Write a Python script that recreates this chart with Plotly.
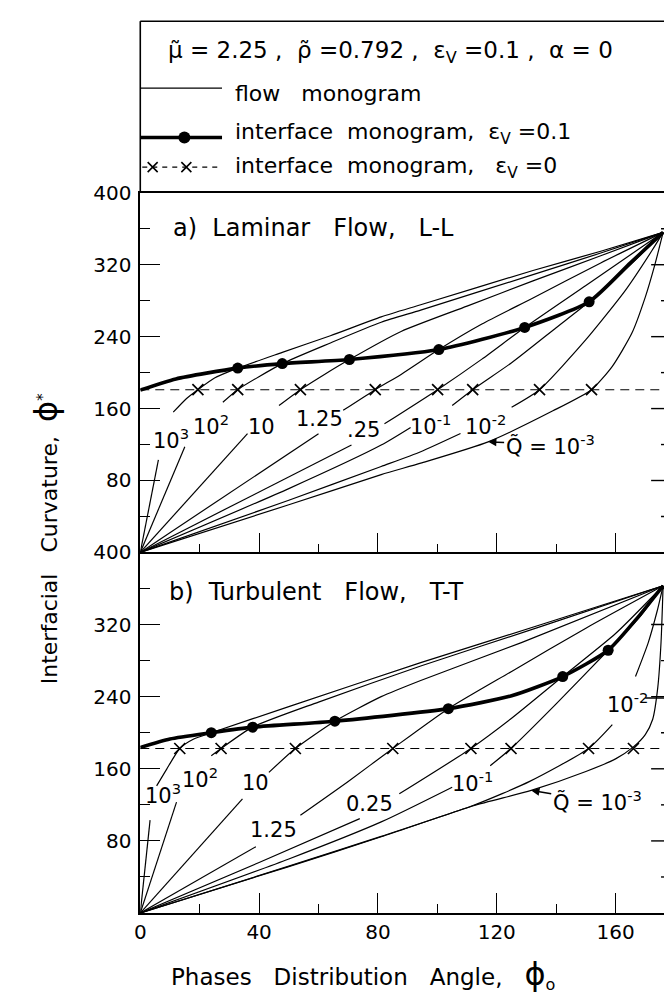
import plotly.graph_objects as go

W, H = 664, 998
FONT = "DejaVu Sans"

# ---------------- data: panel a) Laminar Flow, L-L ----------------
a_x_q1e3 = [0, 6.1, None, 11.1, 15.5, 19.4, 25, 32.8, 47.8, 64, 81.1, 94.4, 132.2, 155, 176]
a_y_q1e3 = [0, 103, None, 156, 171, 181, 194, 205, 222.5, 241, 262, 275.5, 313.6, 335, 356]
a_x_q1e2 = [0, 15, None, 27.8, 32.8, 47.8, 64, 81.1, 94.4, 132.2, 155, 176]
a_y_q1e2 = [0, 117.6, None, 167, 181, 210, 233, 256, 269.5, 309, 333, 356]
a_x_q10 = [0, 36.1, None, 46.7, 53.9, 62, 70.4, 87.8, 110, 132.2, 155, 176]
a_y_q10 = [0, 132.2, None, 163.4, 181, 198, 214.6, 245.8, 274, 302, 330, 356]
a_x_q125 = [0, 60, None, 68.3, 79.1, 87.8, 100.5, 115, 132.2, 155, 176]
a_y_q125 = [0, 132, None, 158, 181, 198, 225.6, 254, 283, 322, 356]
a_x_q025 = [0, 71.1, None, 82.2, 100.1, 115, 129.4, 150, 176]
a_y_q025 = [0, 119.5, None, 143, 181, 215, 250.2, 297, 356]
a_x_q1em1 = [0, 50, 81.1, 91, None, 105, 111.9, 125, 140, 151.1, 165, 176]
a_y_q1em1 = [0, 71, 119.4, 139, None, 163.4, 181, 211, 250, 278.8, 320, 356]
a_x_q1em2 = [0, 50, 81.1, 94.4, 107.8, None, 125, 134.4, 150, 163.3, 172.2, 176]
a_y_q1em2 = [0, 58, 95.6, 112, 132.2, None, 161.5, 181, 236.6, 291.5, 335.5, 356]
a_x_q1em3 = [0, 50, 81.1, 94.4, 117.1, 138.9, 151.9, 158.9, 165.5, 170, 173.3, 176]
a_y_q1em3 = [0, 53, 86.5, 99.3, 123, 157.5, 181, 207, 244, 284, 321, 356]

a_if_x = [0, 12, 32.8, 47.8, 70.4, 100.5, 129.4, 151.1, 165, 176]
a_if_y = [180.5, 193, 205, 210, 214.6, 225.6, 250.2, 278.8, 322, 356]
a_dot_x = [32.8, 47.8, 70.4, 100.5, 129.4, 151.1]
a_dot_y = [205, 210, 214.6, 225.6, 250.2, 278.8]
a_cross_x = [19.4, 32.8, 53.9, 79.1, 100.1, 111.9, 134.4, 151.9]
a_dash_y = 181

# ---------------- data: panel b) Turbulent Flow, T-T ----------------
b_x_q1e3 = [0, 3.3, None, 5.5, 8.9, 13.3, 18, 23.9, 50, 94.4, 135, 176]
b_y_q1e3 = [0, 103, None, 141, 159.7, 182.5, 193, 200, 229, 277.7, 320, 363]
b_x_q1e2 = [0, 12.2, None, 23.9, 27.2, 37.8, 60, 94.4, 135, 176]
b_y_q1e2 = [0, 123, None, 174.4, 182.5, 206.2, 234, 274, 318, 363]
b_x_q10 = [0, 34.4, None, 43.3, 52.2, 65.5, 81.1, 94.4, 128.3, 176]
b_y_q10 = [0, 126.7, None, 156, 182.5, 212.8, 240, 258, 300, 363]
b_x_q125 = [0, 38.9, None, 53.9, 70, 85, 103.7, 125, 150, 176]
b_y_q125 = [0, 73.6, None, 108.5, 146, 182.5, 226.7, 268, 316, 363]
b_x_q025 = [0, 40, 73.9, None, 87.2, 111.3, 125, 142.2, 160, 176]
b_y_q025 = [0, 56, 104.7, None, 132.2, 182.5, 216, 262.3, 310, 363]
b_x_q1em1 = [0, 50, 81.1, 105, None, 117.8, 124.8, 140, 157.5, 168, 176]
b_y_q1em1 = [0, 60, 101.1, 139.6, None, 163.4, 182.5, 232, 291.5, 328, 363]
b_x_q1em2 = [0, 50, 81.1, 112.2, 131.1, 150.9, 158.9, None, 166.7, 171, 174, 176]
b_y_q1em2 = [0, 52, 85, 119.5, 146, 182.5, 209, None, 262.3, 300, 335, 363]
b_x_q1em3 = [0, 50, 81.1, 112.2, 131.6, 150, 160, 166, 170, 172.5, 174.2, 175.3, 176]
b_y_q1em3 = [0, 51.5, 84.6, 119, 136, 157, 171, 184.3, 198, 215, 250, 300, 363]

b_if_x = [0, 10, 23.9, 37.8, 65.5, 103.7, 125, 142.2, 157.5, 167, 176]
b_if_y = [183.5, 193, 200, 206.2, 212.8, 226.7, 241, 262.3, 291.5, 326, 363]
b_dot_x = [23.9, 37.8, 65.5, 103.7, 142.2, 157.5]
b_dot_y = [200, 206.2, 212.8, 226.7, 262.3, 291.5]
b_cross_x = [13.3, 27.2, 52.2, 85, 111.3, 124.8, 150.9, 166]
b_dash_y = 182.5

# ---------------- ticks / labels ----------------
x_major = [0, 40, 80, 120, 160]
x_minor = [20, 60, 100, 140]
y_major = [80, 160, 240, 320, 400]
y_minor = [40, 120, 200, 280, 360]
x_range = [0, 176.3]
y_range = [0, 400]

a_curve_labels = [("10<sup>3</sup>", 10.5, 126.4), ("10<sup>2</sup>", 23.8, 141.8), ("10", 40.9, 139.6),
                  ("1.25", 60.5, 148.4), (".25", 75.2, 136.3), ("10<sup>-1</sup>", 97.6, 141.8),
                  ("10<sup>-2</sup>", 116.2, 141.8)]
b_curve_labels = [("10<sup>3</sup>", 7.8, 131.9), ("10<sup>2</sup>", 20.2, 149.5), ("10", 38.9, 144),
                  ("1.25", 44.9, 92.3), ("0.25", 77.2, 120.9), ("10<sup>-1</sup>", 111.9, 145),
                  ("10<sup>-2</sup>", 163.9, 233)]

# ---------------- layout helpers (pixel -> paper) ----------------
def pxx(px):
    return px / W

def pxy(py):
    return 1 - py / H

X0 = 135.5
A_TOP, AB, B_BOT = 183, 547, 912
LEG_TOP = 9.3

fig = go.Figure()

THIN = dict(color="black", width=1.2, shape="spline", smoothing=0.6)

def add_panel(curves, if_x, if_y, dot_x, dot_y, cross_x, dash_y, xa, ya):
    for cx, cy in curves:
        fig.add_trace(go.Scatter(x=cx, y=cy, mode="lines", line=THIN, xaxis=xa, yaxis=ya,
                                 connectgaps=False, showlegend=False, hoverinfo="skip"))
    fig.add_trace(go.Scatter(x=x_range, y=[dash_y, dash_y], mode="lines",
                             line=dict(color="black", width=1.1, dash="9px,6px"),
                             xaxis=xa, yaxis=ya, showlegend=False, hoverinfo="skip"))
    fig.add_trace(go.Scatter(x=cross_x, y=[dash_y] * len(cross_x), mode="markers",
                             marker=dict(symbol="x-thin", size=11, line=dict(color="black", width=1.7)),
                             xaxis=xa, yaxis=ya, showlegend=False, hoverinfo="skip"))
    fig.add_trace(go.Scatter(x=if_x, y=if_y, mode="lines",
                             line=dict(color="black", width=3.6, shape="spline", smoothing=0.6),
                             xaxis=xa, yaxis=ya, showlegend=False, hoverinfo="skip"))
    fig.add_trace(go.Scatter(x=dot_x, y=dot_y, mode="markers",
                             marker=dict(symbol="circle", size=11, color="black"),
                             xaxis=xa, yaxis=ya, showlegend=False, hoverinfo="skip"))

add_panel([(a_x_q1e3, a_y_q1e3), (a_x_q1e2, a_y_q1e2), (a_x_q10, a_y_q10), (a_x_q125, a_y_q125),
           (a_x_q025, a_y_q025), (a_x_q1em1, a_y_q1em1), (a_x_q1em2, a_y_q1em2), (a_x_q1em3, a_y_q1em3)],
          a_if_x, a_if_y, a_dot_x, a_dot_y, a_cross_x, a_dash_y, "x2", "y2")
add_panel([(b_x_q1e3, b_y_q1e3), (b_x_q1e2, b_y_q1e2), (b_x_q10, b_y_q10), (b_x_q125, b_y_q125),
           (b_x_q025, b_y_q025), (b_x_q1em1, b_y_q1em1), (b_x_q1em2, b_y_q1em2), (b_x_q1em3, b_y_q1em3)],
          b_if_x, b_if_y, b_dot_x, b_dot_y, b_cross_x, b_dash_y, "x", "y")

# legend samples (legend axis uses pixel-like coordinates)
fig.add_trace(go.Scatter(x=[X0, 218], y=[77, 77], mode="lines", line=dict(color="black", width=1.3),
                         xaxis="x3", yaxis="y3", showlegend=False, hoverinfo="skip"))
fig.add_trace(go.Scatter(x=[X0, 218], y=[127, 127], mode="lines", line=dict(color="black", width=3.6),
                         xaxis="x3", yaxis="y3", showlegend=False, hoverinfo="skip"))
fig.add_trace(go.Scatter(x=[180], y=[127], mode="markers", marker=dict(symbol="circle", size=12, color="black"),
                         xaxis="x3", yaxis="y3", showlegend=False, hoverinfo="skip"))
fig.add_trace(go.Scatter(x=[X0 + 2, 218], y=[157, 157], mode="lines",
                         line=dict(color="black", width=1.2, dash="5px,5px"),
                         xaxis="x3", yaxis="y3", showlegend=False, hoverinfo="skip"))
fig.add_trace(go.Scatter(x=[148, 182], y=[157, 157], mode="markers",
                         marker=dict(symbol="x-thin", size=10, line=dict(color="black", width=1.6)),
                         xaxis="x3", yaxis="y3", showlegend=False, hoverinfo="skip"))

tickfont = dict(family=FONT, size=20, color="black")

def xaxis_cfg(anchor, labels):
    return dict(domain=[pxx(X0), 1], range=x_range, anchor=anchor, showline=True, linecolor="black",
                linewidth=1.6, ticks="inside", tickvals=x_major, ticklen=20, tickwidth=1.4, tickcolor="black",
                minor=dict(tickvals=x_minor, ticks="inside", ticklen=9, tickwidth=1.4, tickcolor="black"),
                showgrid=False, zeroline=False, showticklabels=labels, tickfont=tickfont,
                ticklabelstandoff=0)

def yaxis_cfg(anchor, dom):
    return dict(domain=dom, range=y_range, anchor=anchor, showline=True, linecolor="black", linewidth=1.6,
                ticks="inside", tickvals=y_major, ticklen=20, tickwidth=1.4, tickcolor="black",
                minor=dict(tickvals=y_minor, ticks="inside", ticklen=10, tickwidth=1.4, tickcolor="black"),
                showgrid=False, zeroline=False, tickfont=tickfont, ticklabelstandoff=3)

x2 = xaxis_cfg("y2", False)
x2["matches"] = "x"
x2["mirror"] = True

ann = []

def txt(text, x, y, xref, yref, size=21, xanchor="center", yanchor="middle", angle=0):
    ann.append(dict(text=text, x=x, y=y, xref=xref, yref=yref, showarrow=False, xanchor=xanchor,
                    yanchor=yanchor, textangle=angle, font=dict(family=FONT, size=size, color="black")))

for t, x, y in a_curve_labels:
    txt(t, x, y, "x2", "y2")
for t, x, y in b_curve_labels:
    txt(t, x, y, "x", "y")

# Q~ = 10^-3 arrows
ann.append(dict(text="Q\u0303 = 10<sup>-3</sup>", x=117.1, y=123, xref="x2", yref="y2", showarrow=True,
                ax=62, ay=3, arrowhead=2, arrowsize=1.1, arrowwidth=1.5, arrowcolor="black", standoff=0,
                font=dict(family=FONT, size=21, color="black")))
ann.append(dict(text="Q\u0303 = 10<sup>-3</sup>", x=131.6, y=136, xref="x", yref="y", showarrow=True,
                ax=66, ay=11, arrowhead=2, arrowsize=1.1, arrowwidth=1.5, arrowcolor="black", standoff=0,
                font=dict(family=FONT, size=21, color="black")))

# panel titles
txt("a)  Laminar   Flow,   L-L", pxx(166), pxy(219), "paper", "paper", size=24, xanchor="left")
txt("b)  Turbulent   Flow,   T-T", pxx(162), pxy(587), "paper", "paper", size=24, xanchor="left")

# legend texts
txt("\u03bc\u0303 = 2.25 ,  \u03c1\u0303 =0.792 ,  \u03b5<sub>V</sub> =0.1 ,  \u03b1 = 0",
    pxx(161), pxy(40), "paper", "paper", size=23, xanchor="left")
txt("flow   monogram", pxx(229), pxy(82), "paper", "paper", size=22, xanchor="left")
txt("interface  monogram,  \u03b5<sub>V</sub> =0.1", pxx(229), pxy(123), "paper", "paper", size=22, xanchor="left")
txt("interface  monogram,   \u03b5<sub>V</sub> =0", pxx(229), pxy(157), "paper", "paper", size=22, xanchor="left")

# axis titles
txt("Interfacial   Curvature,  <span style='font-size:32px'>\u03d5</span><sup>*</sup>",
    pxx(40), pxy(533), "paper", "paper", size=22, angle=-90)
txt("Phases   Distribution   Angle,   <span style='font-size:32px'>\u03d5</span><sub>o</sub>",
    pxx(360), pxy(974), "paper", "paper", size=23)

shapes = [
    dict(type="line", xref="paper", yref="paper", x0=pxx(X0), x1=1, y0=pxy(LEG_TOP), y1=pxy(LEG_TOP),
         line=dict(color="black", width=1.6)),
    dict(type="line", xref="paper", yref="paper", x0=pxx(X0), x1=pxx(X0), y0=pxy(LEG_TOP), y1=pxy(A_TOP),
         line=dict(color="black", width=1.6)),
    dict(type="line", xref="x", yref="y", x0=170, x1=176.3, y0=238.5, y1=238.5,
         line=dict(color="black", width=1.3)),
]
# right-edge ticks (the right spine itself lies just outside the picture)
for yr in ("y", "y2"):
    for v in y_major[:-1]:
        shapes.append(dict(type="line", xref="paper", yref=yr, x0=1 - 13 / W, x1=1, y0=v, y1=v,
                           line=dict(color="black", width=1.4)))
    for v in y_minor:
        shapes.append(dict(type="line", xref="paper", yref=yr, x0=1 - 3 / W, x1=1, y0=v, y1=v,
                           line=dict(color="black", width=1.4)))

fig.update_layout(
    width=W, height=H, margin=dict(l=0, r=0, t=0, b=0),
    paper_bgcolor="white", plot_bgcolor="white", showlegend=False,
    xaxis=xaxis_cfg("y", True),
    xaxis2=x2,
    yaxis=yaxis_cfg("x", [pxy(B_BOT), pxy(AB)]),
    yaxis2=yaxis_cfg("x2", [pxy(AB), pxy(A_TOP)]),
    xaxis3=dict(domain=[pxx(X0), 1], range=[X0, W], anchor="y3", visible=False),
    yaxis3=dict(domain=[pxy(A_TOP), pxy(LEG_TOP)], range=[A_TOP, LEG_TOP], anchor="x3", visible=False),
    annotations=ann, shapes=shapes,
    font=dict(family=FONT, color="black"),
)

fig.write_html("out.html")
